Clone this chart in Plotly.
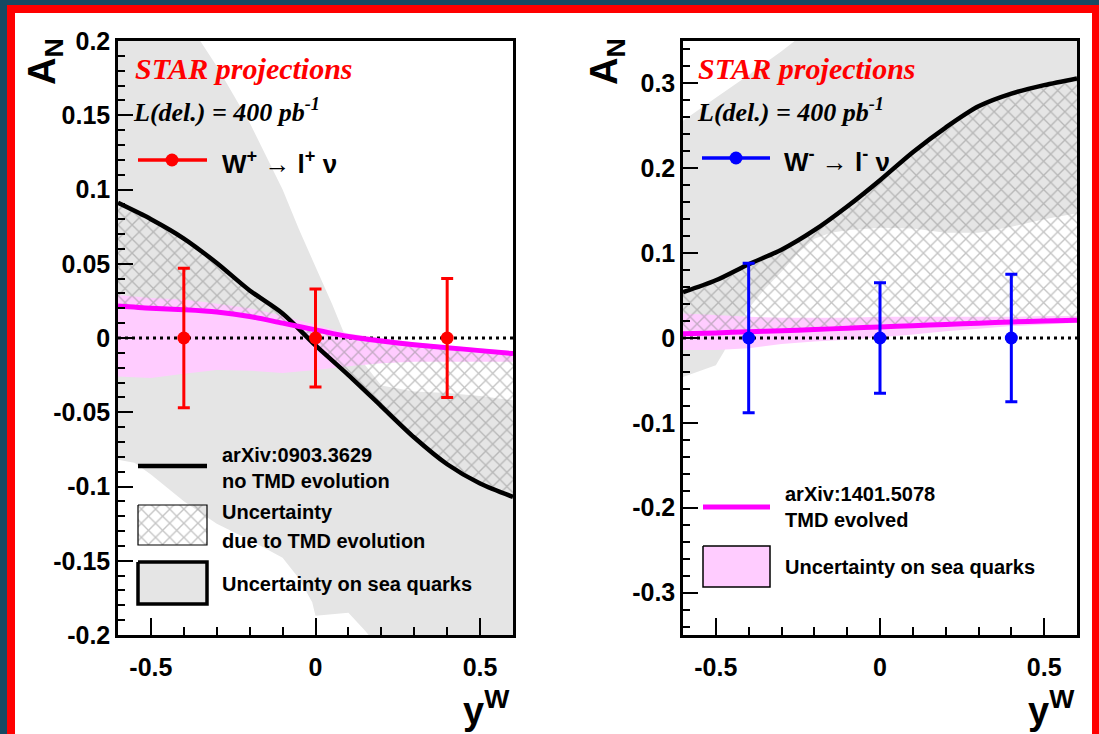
import plotly.graph_objects as go

W, H = 1099, 734

# ---------------- data ----------------
theory_x = [-0.6, -0.5, -0.4, -0.3, -0.2, -0.1, 0.0, 0.1, 0.2, 0.3, 0.4, 0.5, 0.6]

# W+ -> l+ nu panel
wp_pts_x = [-0.4, 0.0, 0.4]
wp_pts_y = [0.0, 0.0, 0.0]
wp_pts_err = [0.047, 0.033, 0.040]
wp_noevo = [0.091, 0.080, 0.067, 0.0505, 0.032, 0.0165, -0.005, -0.025, -0.046, -0.067, -0.085, -0.098, -0.107]
wp_tmd = [0.0215, 0.020, 0.019, 0.0175, 0.0145, 0.010, 0.0055, 0.001, -0.002, -0.0045, -0.0065, -0.0085, -0.0105]
wp_tmd_hi = [0.029, 0.027, 0.026, 0.023, 0.020, 0.015, 0.009, 0.003, 0.000, -0.003, -0.005, -0.007, -0.009]
wp_tmd_lo = [-0.026, -0.027, -0.024, -0.0215, -0.022, -0.0235, -0.0215, -0.019, -0.017, -0.016, -0.016, -0.016, -0.016]
wp_sea_hi_x = [-0.6, -0.5, -0.4, -0.35, -0.3, -0.2, -0.1, -0.05, 0.0, 0.05, 0.1, 0.15, 0.2, 0.3, 0.4, 0.5, 0.6]
wp_sea_hi = [0.29, 0.253, 0.217, 0.2, 0.183, 0.145, 0.100, 0.073, 0.048, 0.023, -0.004, -0.018, -0.032, -0.036, -0.037, -0.039, -0.042]
wp_sea_lo_x = [-0.6, -0.55, -0.5, -0.4, -0.3, -0.2, -0.1, -0.05, -0.01, 0.0, 0.1, 0.15, 0.2, 0.3, 0.4, 0.5, 0.6]
wp_sea_lo = [-0.082, -0.084, -0.092, -0.110, -0.125, -0.136, -0.148, -0.162, -0.178, -0.187, -0.185, -0.197, -0.21, -0.23, -0.24, -0.25, -0.26]

# W- -> l- nu panel
wm_pts_x = [-0.4, 0.0, 0.4]
wm_pts_y = [0.0, 0.0, 0.0]
wm_pts_err = [0.088, 0.065, 0.075]
wm_noevo = [0.054, 0.068, 0.087, 0.104, 0.127, 0.155, 0.186, 0.219, 0.248, 0.273, 0.288, 0.298, 0.306]
wm_tmd = [0.005, 0.006, 0.0075, 0.0085, 0.010, 0.0115, 0.013, 0.0145, 0.016, 0.0175, 0.019, 0.020, 0.021]
wm_tmd_hi = [0.029, 0.027, 0.025, 0.024, 0.024, 0.024, 0.025, 0.025, 0.025, 0.025, 0.025, 0.026, 0.026]
wm_tmd_lo = [-0.014, -0.014, -0.012, -0.007, -0.004, -0.002, 0.001, 0.004, 0.008, 0.011, 0.014, 0.016, 0.018]
wm_sea_hi_x = [-0.6, -0.5, -0.4, -0.3, -0.26, -0.2, 0.0, 0.3, 0.6]
wm_sea_hi = [0.256, 0.283, 0.310, 0.338, 0.350, 0.37, 0.43, 0.50, 0.55]
wm_sea_lo_x = [-0.6, -0.5, -0.475, -0.45, -0.4, -0.35, -0.3, -0.25, -0.2, -0.15, -0.1, 0.0, 0.1, 0.2, 0.3, 0.4, 0.5, 0.6]
wm_sea_lo = [-0.046, -0.032, -0.016, 0.005, 0.035, 0.058, 0.078, 0.100, 0.117, 0.124, 0.127, 0.130, 0.129, 0.124, 0.124, 0.131, 0.140, 0.147]

# axes
X_RANGE = [-0.6, 0.6]
x_tickvals = [-0.5, 0.0, 0.5]
x_ticktext = ["-0.5", "0", "0.5"]
wp_y_range = [-0.2, 0.2]
wp_y_tickvals = [-0.2, -0.15, -0.1, -0.05, 0.0, 0.05, 0.1, 0.15, 0.2]
wp_y_ticktext = ["-0.2", "-0.15", "-0.1", "-0.05", "0", "0.05", "0.1", "0.15", "0.2"]
wm_y_range = [-0.35, 0.35]
wm_y_tickvals = [-0.3, -0.2, -0.1, 0.0, 0.1, 0.2, 0.3]
wm_y_ticktext = ["-0.3", "-0.2", "-0.1", "0", "0.1", "0.2", "0.3"]

# ---------------- styling ----------------
GREY = "#e5e5e5"
PINK = "#ffccff"
MAGENTA = "#ff00ff"
HATCH = "#8a8a8a"
SANS = "Liberation Sans, Arial, sans-serif"
SERIF = "Liberation Serif, Times New Roman, serif"
HATCH_PATTERN = dict(shape="x", fgcolor=HATCH, bgcolor="rgba(0,0,0,0)", size=10, solidity=0.25)


def band(xa, ya, xb, yb):
    return list(xa) + list(xb)[::-1], list(ya) + list(yb)[::-1]


fig = go.Figure()


def add_panel(xa, ya, sea_hx, sea_h, sea_lx, sea_l, tmd_hi, tmd_lo, noevo, tmd,
              px, py, perr, pcolor):
    bx, by = band(sea_hx, sea_h, sea_lx, sea_l)
    fig.add_trace(go.Scatter(x=bx, y=by, fill="toself", fillcolor=GREY, mode="none",
                             xaxis=xa, yaxis=ya, hoverinfo="skip"))
    bx, by = band(theory_x, tmd_hi, theory_x, tmd_lo)
    fig.add_trace(go.Scatter(x=bx, y=by, fill="toself", fillcolor=PINK, mode="none",
                             xaxis=xa, yaxis=ya, hoverinfo="skip"))
    bx, by = band(theory_x, noevo, theory_x, tmd)
    fig.add_trace(go.Scatter(x=bx, y=by, fill="toself", fillcolor="rgba(0,0,0,0)", mode="none",
                             fillpattern=HATCH_PATTERN, xaxis=xa, yaxis=ya, hoverinfo="skip"))
    fig.add_trace(go.Scatter(x=X_RANGE, y=[0, 0], mode="lines",
                             line=dict(color="black", width=3, dash="3px,4px"),
                             xaxis=xa, yaxis=ya, hoverinfo="skip"))
    fig.add_trace(go.Scatter(x=theory_x, y=noevo, mode="lines",
                             line=dict(color="black", width=4.5, shape="spline", smoothing=0.8),
                             xaxis=xa, yaxis=ya))
    fig.add_trace(go.Scatter(x=theory_x, y=tmd, mode="lines",
                             line=dict(color=MAGENTA, width=5, shape="spline", smoothing=0.8),
                             xaxis=xa, yaxis=ya))
    fig.add_trace(go.Scatter(x=px, y=py, mode="markers", marker=dict(size=13, color=pcolor),
                             error_y=dict(type="data", array=perr, color=pcolor, thickness=3, width=6),
                             xaxis=xa, yaxis=ya))


add_panel("x", "y", wp_sea_hi_x, wp_sea_hi, wp_sea_lo_x, wp_sea_lo, wp_tmd_hi, wp_tmd_lo,
          wp_noevo, wp_tmd, wp_pts_x, wp_pts_y, wp_pts_err, "#ff0000")
add_panel("x2", "y2", wm_sea_hi_x, wm_sea_hi, wm_sea_lo_x, wm_sea_lo, wm_tmd_hi, wm_tmd_lo,
          wm_noevo, wm_tmd, wm_pts_x, wm_pts_y, wm_pts_err, "#0000ff")


# ---------------- legend glyphs (pixel overlay axes) ----------------
def glyph(**kw):
    kw.setdefault("mode", "lines")
    fig.add_trace(go.Scatter(xaxis="x3", yaxis="y3", hoverinfo="skip", **kw))


# left panel
glyph(x=[138, 207], y=[160, 160], line=dict(color="#ff0000", width=3.5))
glyph(x=[172], y=[160], mode="markers", marker=dict(size=13, color="#ff0000"))
glyph(x=[138, 207], y=[466, 466], line=dict(color="black", width=4.5))
glyph(x=[138, 207, 207, 138, 138], y=[505, 505, 545, 545, 505], fill="toself",
      fillcolor="rgba(0,0,0,0)", line=dict(color="black", width=1.2), fillpattern=HATCH_PATTERN)
glyph(x=[138, 207, 207, 138, 138], y=[562, 562, 604, 604, 562], fill="toself",
      fillcolor=GREY, line=dict(color="black", width=3.5))
# right panel
glyph(x=[702, 770], y=[158, 158], line=dict(color="#0000ff", width=3.5))
glyph(x=[736], y=[158], mode="markers", marker=dict(size=13, color="#0000ff"))
glyph(x=[703, 770], y=[507, 507], line=dict(color=MAGENTA, width=5))
glyph(x=[703, 770, 770, 703, 703], y=[546, 546, 587, 587, 546], fill="toself",
      fillcolor=PINK, line=dict(color="black", width=1.5))

# ---------------- axes ----------------
axis_common = dict(showgrid=False, zeroline=False, showline=True, linecolor="black", linewidth=2.5,
                   mirror=True, ticks="inside", tickcolor="black", tickwidth=2, automargin=False,
                   tickfont=dict(family=SANS, size=25, color="black", weight="bold"))


def xaxis(domain, anchor):
    return dict(axis_common, domain=domain, anchor=anchor, range=X_RANGE, tickmode="array",
                tickvals=x_tickvals, ticktext=x_ticktext, ticklen=17, ticklabelstandoff=8,
                minor=dict(tickmode="linear", tick0=0, dtick=0.1, ticklen=8, tickwidth=2,
                           tickcolor="black", ticks="inside"))


def yaxis(domain, anchor, rng, tv, tt, mdt):
    return dict(axis_common, domain=domain, anchor=anchor, range=rng, tickmode="array",
                tickvals=tv, ticktext=tt, ticklen=15,
                minor=dict(tickmode="linear", tick0=0, dtick=mdt, ticklen=7, tickwidth=2,
                           tickcolor="black", ticks="inside"))


ydom = [1 - 635 / H, 1 - 41 / H]
fig.update_layout(
    xaxis=xaxis([118 / W, 513 / W], "y"),
    yaxis=yaxis(ydom, "x", wp_y_range, wp_y_tickvals, wp_y_ticktext, 0.01),
    xaxis2=xaxis([683 / W, 1077 / W], "y2"),
    yaxis2=yaxis(ydom, "x2", wm_y_range, wm_y_tickvals, wm_y_ticktext, 0.02),
    xaxis3=dict(domain=[0, 1], range=[0, W], visible=False, anchor="y3", fixedrange=True,
                automargin=False),
    yaxis3=dict(domain=[0, 1], range=[H, 0], visible=False, anchor="x3", fixedrange=True,
                automargin=False),
)

# ---------------- frame ----------------
shapes = [
    dict(type="rect", xref="paper", yref="paper", x0=7 / W, x1=1, y0=0, y1=1 - 5 / H,
         fillcolor="#ff0000", line=dict(width=0), layer="below"),
    dict(type="rect", xref="paper", yref="paper", x0=15 / W, x1=1092 / W, y0=0, y1=1 - 13 / H,
         fillcolor="white", line=dict(width=0), layer="below"),
]


# ---------------- texts ----------------
def ann(text, x, y, size, family=SANS, color="black", xanchor="left", yanchor="middle",
        style="normal", angle=0):
    return dict(text=text, x=x / W, y=1 - y / H, xref="paper", yref="paper", showarrow=False,
                xanchor=xanchor, yanchor=yanchor, textangle=angle,
                font=dict(family=family, size=size, color=color, weight="bold", style=style))


annotations = [
    ann("STAR projections", 133, 68, 30, family=SERIF, color="#ff0000", style="italic"),
    ann("L(del.) = 400 pb<sup>-1</sup>", 131, 110, 26, family=SERIF, style="italic"),
    ann("W<sup>+</sup> \u2192 l<sup>+</sup> \u03bd", 220, 162, 26),
    ann("arXiv:0903.3629", 220, 455, 20),
    ann("no TMD evolution", 220, 481, 20),
    ann("Uncertainty", 220, 512, 20),
    ann("due to TMD evolution", 220, 541, 20),
    ann("Uncertainty on sea quarks", 220, 584, 20),
    ann("A<sub>N</sub>", 45, 62, 38, xanchor="center", angle=-90),
    ann("y<sup>W</sup>", 512, 708, 38, xanchor="right"),

    ann("STAR projections", 696, 68, 30, family=SERIF, color="#ff0000", style="italic"),
    ann("L(del.) = 400 pb<sup>-1</sup>", 695, 110, 26, family=SERIF, style="italic"),
    ann("W<sup>-</sup> \u2192 l<sup>-</sup> \u03bd", 782, 160, 26),
    ann("arXiv:1401.5078", 783, 494, 20),
    ann("TMD evolved", 783, 520, 20),
    ann("Uncertainty on sea quarks", 783, 567, 20),
    ann("A<sub>N</sub>", 607, 62, 38, xanchor="center", angle=-90),
    ann("y<sup>W</sup>", 1077, 708, 38, xanchor="right"),
]

fig.update_layout(
    width=W, height=H, margin=dict(l=0, r=0, t=0, b=0, autoexpand=False),
    paper_bgcolor="#164a63", plot_bgcolor="rgba(0,0,0,0)",
    showlegend=False, shapes=shapes, annotations=annotations,
)

fig.write_html("out.html")
